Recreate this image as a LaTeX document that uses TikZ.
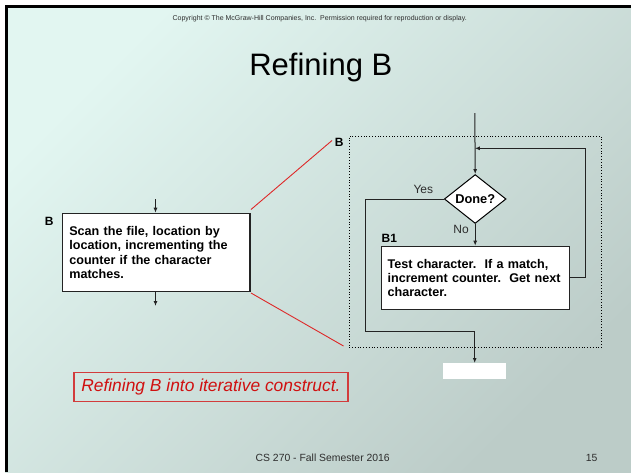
\documentclass[tikz,border=0pt]{standalone}
\usepackage{fontspec}
\setmainfont{Liberation Sans}
\usetikzlibrary{shapes.geometric,arrows.meta}
\definecolor{bgA}{RGB}{226,246,241}
\definecolor{bgB}{RGB}{188,204,200}
\definecolor{redln}{RGB}{222,40,40}
\definecolor{redtxt}{RGB}{208,16,16}
\definecolor{redbox}{RGB}{210,60,60}
\definecolor{lngray}{RGB}{35,35,35}
\definecolor{ftgray}{RGB}{45,45,45}
\tikzset{
  flow/.style={draw=lngray, line width=1pt},
  arr/.style={flow, -{Latex[length=5pt,width=4pt]}},
  stepbox/.style={draw=lngray, line width=1.2pt, fill=white, anchor=north west,
    align=left, inner xsep=6pt, inner ysep=0pt,
    font=\bfseries\fontsize{12.6}{14.4}\selectfont},
  lbl/.style={font=\bfseries\fontsize{12}{14}\selectfont, inner sep=0pt},
  small/.style={font=\fontsize{12}{14}\selectfont, text=ftgray, inner sep=0pt}
}
\begin{document}
\begin{tikzpicture}[x=1pt,y=-1pt]
\useasboundingbox (0,0) rectangle (631,472);
\fill[white] (0,0) rectangle (631,472);
\shade[top color=bgA, bottom color=bgB, shading angle=45] (5,5) rectangle (631,472);
\fill[black] (5,5) rectangle (631,7.5);
\fill[black] (5,5) rectangle (8,472);

% header
\node[anchor=base, inner sep=0pt, text=ftgray, font=\fontsize{7}{8}\selectfont] (copy) at (319.7,20.5)
  {Copyright © The McGraw-Hill Companies, Inc.\ \ Permission required for reproduction or display.};
\node[anchor=base, inner sep=0pt, font=\fontsize{31}{36}\selectfont] (title) at (320.8,75) {Refining B};

% left box
\node[stepbox, inner xsep=7pt, minimum width=187.6pt, minimum height=78.3pt, text width=173.6pt] (scan) at (61.7,212.7)
  {Scan the file, location by\\location, incrementing the\\counter if the character\\matches.};
\node[lbl] (blab) at (49.3,221.7) {B};
\coordinate (scanin) at (155.5,199);
\coordinate (scanout) at (155.5,306);
\draw[arr] (scanin) -- (scanin |- scan.north);
\draw[arr] (scanout |- scan.south) -- (scanout);

% outer dotted box
\node[draw=black, dotted, line width=0.8pt, anchor=north west, minimum width=252pt, minimum height=211.3pt, inner sep=0pt] (outer) at (348.7,135.7) {};
\node[lbl] (blab2) at (339.3,142.7) {B};

% red lines
\coordinate (r1) at (251,209.5);
\coordinate (r2) at (332,140.5);
\coordinate (r3) at (251,293);
\coordinate (r4) at (343.5,346);
\draw[redln, line width=0.9pt] (r1) -- (r2);
\draw[redln, line width=0.9pt] (r3) -- (r4);

% diamond
\node[diamond, draw=black, line width=1pt, fill=white, minimum width=61.7pt, minimum height=46.3pt, inner sep=0pt,
  font=\bfseries\fontsize{12.8}{14}\selectfont] (done) at (475.2,199) {Done?};
\coordinate (top) at (474.8,113);
\draw[arr] (top) -- (done.north);

% B1 box
\node[stepbox, minimum width=188pt, minimum height=63.3pt, text width=176pt] (b1) at (381,245.7)
  {Test character.\ \ If a match,\\increment counter.\ \ Get next\\character.};
\node[lbl, anchor=south west] (b1lab) at (381.5,243) {B1};
\draw[arr] (done.south) -- (b1.north -| done.south);
\node[small] (no) at (461,229.3) {No};
\node[small] (yes) at (423.3,189.3) {Yes};

% loop back
\coordinate (loopr) at (585.5,148.3);
\coordinate (loopm) at (474.8,148.3);
\draw[arr] (b1.east) -| (loopr) -- (loopm);

% exit
\node[fill=white, anchor=north west, minimum width=63pt, minimum height=16pt, inner sep=0pt] (exitbox) at (443,363) {};
\coordinate (yl) at (365.3,199);
\coordinate (yb) at (365.3,331.7);
\draw[arr] (done.west) -- (yl) -- (yb) -- (yb -| exitbox.north) -- (exitbox.north);

% caption
\node[draw=redbox, line width=1.2pt, anchor=north west, minimum width=274pt, minimum height=28.7pt, inner xsep=0pt,
  text=redtxt, font=\itshape\fontsize{17.4}{20}\selectfont] (cap) at (73.3,372) {Refining B into iterative construct.};

% footer
\node[anchor=base, inner sep=0pt, text=ftgray, font=\fontsize{10.4}{12}\selectfont] (foot) at (322.7,461) {CS 270 - Fall Semester 2016};
\node[anchor=base, inner sep=0pt, text=ftgray, font=\fontsize{10.4}{12}\selectfont] (page) at (591.7,461) {15};
\end{tikzpicture}
\end{document}
